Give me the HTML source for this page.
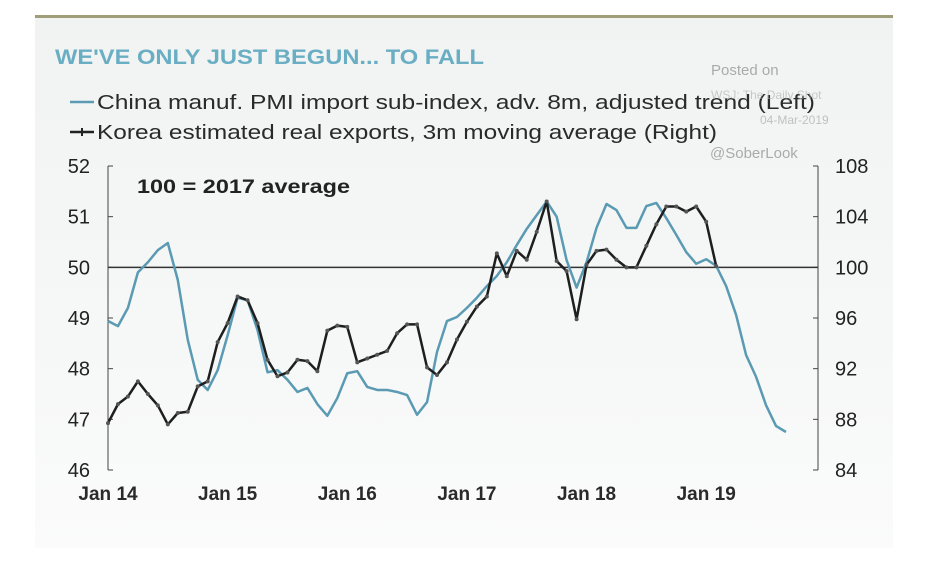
<!DOCTYPE html>
<html><head><meta charset="utf-8"><style>
html,body{margin:0;padding:0;background:#fff;}
body{width:942px;height:572px;position:relative;overflow:hidden;font-family:"Liberation Sans",sans-serif;}
#panel{position:absolute;left:35px;top:15px;width:858px;height:533px;background:linear-gradient(#f1f3f3,#f7f8f8 70%,#fbfbfb);border-top:3px solid #a09e78;box-sizing:border-box;}
svg{position:absolute;left:0;top:0;}
</style></head><body>
<div id="panel"></div>
<svg id="chart" width="942" height="572">
<text x="55" y="64" fill="#6aaec4" font-size="21" font-weight="bold" textLength="429" lengthAdjust="spacingAndGlyphs">WE'VE ONLY JUST BEGUN... TO FALL</text>
<g>
<line x1="70" y1="102" x2="94" y2="102" stroke="#5b9ab3" stroke-width="2.5"/>
<text x="97" y="109" font-size="20" fill="#2a2a2a" textLength="718" lengthAdjust="spacingAndGlyphs">China manuf. PMI import sub-index, adv. 8m, adjusted trend (Left)</text>
<line x1="70" y1="132" x2="94" y2="132" stroke="#222" stroke-width="2.5"/>
<line x1="82" y1="128" x2="82" y2="136" stroke="#222" stroke-width="2"/>
<text x="97" y="139" font-size="20" fill="#2a2a2a" textLength="620" lengthAdjust="spacingAndGlyphs">Korea estimated real exports, 3m moving average (Right)</text>
</g>
<g fill="#aaa">
<text x="711" y="75" font-size="15">Posted on</text>
<text x="711" y="99" font-size="12" opacity="0.6">WSJ: The Daily Shot</text>
<text x="760" y="124" font-size="12" opacity="0.7">04-Mar-2019</text>
<text x="710" y="158" font-size="15">@SoberLook</text>
</g>
<text x="137" y="193" font-size="19" font-weight="bold" fill="#222" textLength="213" lengthAdjust="spacingAndGlyphs">100 = 2017 average</text>
<g id="axes"></g>
<g id="series"></g>
</svg>
<script>
const xLabels=["Jan 14","Jan 15","Jan 16","Jan 17","Jan 18","Jan 19"];
const leftTicks=[46,47,48,49,50,51,52];
const rightTicks=[84,88,92,96,100,104,108];
const china=[48.94,48.84,49.2,49.9,50.1,50.34,50.48,49.75,48.57,47.78,47.58,47.97,48.66,49.4,49.35,48.76,47.93,47.97,47.78,47.54,47.62,47.3,47.07,47.42,47.91,47.95,47.64,47.58,47.58,47.54,47.48,47.09,47.34,48.33,48.94,49.02,49.2,49.4,49.63,49.83,50.1,50.44,50.76,51.03,51.3,51.0,50.14,49.6,50.1,50.78,51.25,51.13,50.78,50.78,51.21,51.27,50.97,50.64,50.3,50.07,50.16,50.03,49.63,49.06,48.27,47.84,47.28,46.87,46.75];
const korea=[87.7,89.2,89.8,91.0,90.0,89.1,87.6,88.5,88.6,90.6,91.0,94.1,95.6,97.7,97.4,95.6,92.7,91.4,91.7,92.7,92.6,91.8,95.0,95.4,95.3,92.5,92.8,93.1,93.4,94.8,95.5,95.5,92.1,91.5,92.5,94.3,95.7,96.9,97.7,101.1,99.3,101.3,100.6,102.8,105.2,100.5,99.7,95.9,100.2,101.3,101.4,100.6,100.0,100.0,101.7,103.4,104.8,104.8,104.4,104.8,103.6,100.1];
const X0=108,PX_M=9.97,Y0=166,Y1=470,XL=108,XR=818;
const x=m=>X0+m*PX_M;
const yL=v=>Y0+(52-v)/(52-46)*(Y1-Y0);
const yR=v=>Y0+(108-v)/(108-84)*(Y1-Y0);
const NS="http://www.w3.org/2000/svg";
function mk(t,a,p){const e=document.createElementNS(NS,t);for(const k in a)e.setAttribute(k,a[k]);p.appendChild(e);return e;}
const ax=document.getElementById('axes'),se=document.getElementById('series');
let e;
e=mk('line',{x1:XL,y1:Y0,x2:XL,y2:Y1,stroke:'#444','stroke-width':1},ax);


e=mk('line',{x1:XR,y1:Y0,x2:XR,y2:Y1,stroke:'#444','stroke-width':1},ax);


leftTicks.forEach(v=>{
 e=mk('line',{x1:XL,y1:yL(v),x2:XL+5,y2:yL(v),stroke:'#444'},ax);
 
 
 e=mk('text',{x:XL-18,y:yL(v)+7,'text-anchor':'end','font-size':20,fill:'#222'},ax);e.textContent=v;
 
 
});
rightTicks.forEach(v=>{
 e=mk('line',{x1:XR-5,y1:yR(v),x2:XR,y2:yR(v),stroke:'#444'},ax);
 
 
 e=mk('text',{x:XR+17,y:yR(v)+7,'font-size':20,fill:'#222'},ax);e.textContent=v;
 
 
});
xLabels.forEach((l,i)=>{
 e=mk('text',{x:x(i*12),y:Y1+30,'text-anchor':'middle','font-size':19,'font-weight':'bold',fill:'#2a2a2a'},ax);e.textContent=l;
 
 
});
e=mk('line',{x1:XL,y1:yL(50),x2:XR,y2:yL(50),stroke:'#333','stroke-width':1.5},ax);


e=mk('polyline',{points:china.map((v,i)=>x(i)+','+yL(v)).join(' '),fill:'none',stroke:'#5b9ab3','stroke-width':2.5,'stroke-linejoin':'round'},se);


e=mk('polyline',{points:korea.map((v,i)=>x(i)+','+yR(v)).join(' '),fill:'none',stroke:'#1e1e1e','stroke-width':2.5,'stroke-linejoin':'round'},se);


korea.forEach((v,i)=>{
 e=mk('circle',{cx:x(i),cy:yR(v),r:2,fill:'#555'},se);
 
 
});
</script>
</body></html>
